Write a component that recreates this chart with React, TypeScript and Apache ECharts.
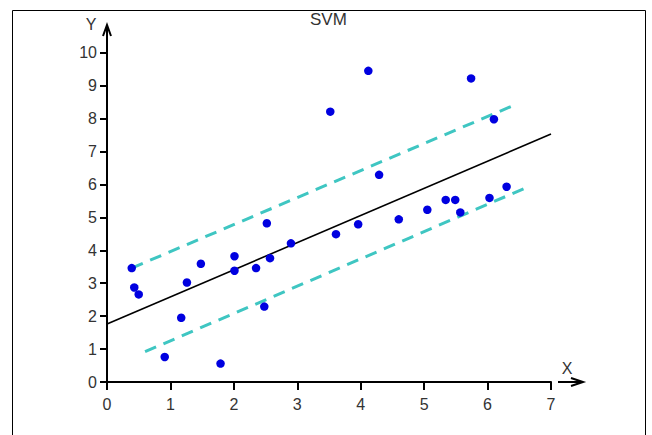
import React, { useEffect, useRef } from "react";
import * as echarts from "echarts";

// Training samples (x, y)
const samples: [number, number][] = [
  [0.39, 3.46], [0.43, 2.87], [0.5, 2.66], [0.91, 0.76], [1.17, 1.95],
  [1.26, 3.02], [1.48, 3.59], [1.79, 0.56], [2.01, 3.82], [2.01, 3.38],
  [2.35, 3.46], [2.48, 2.29], [2.52, 4.82], [2.57, 3.76], [2.9, 4.21],
  [3.52, 8.21], [3.61, 4.49], [3.96, 4.79], [4.12, 9.45], [4.29, 6.29],
  [4.6, 4.94], [5.05, 5.23], [5.34, 5.53], [5.49, 5.53], [5.57, 5.15],
  [5.74, 9.22], [6.03, 5.59], [6.1, 7.98], [6.3, 5.93],
];

// Fitted regression line and the epsilon-tube borders
const hyperplane: [number, number][] = [[0, 1.76], [7, 7.53]];
const upperMargin: [number, number][] = [[0.39, 3.46], [6.46, 8.44]];
const lowerMargin: [number, number][] = [[0.6, 0.92], [6.62, 5.91]];

const xTicks = { min: 0, max: 7, interval: 1 };
const yTicks = { min: 0, max: 10, interval: 1 };

const W = 652;
const H = 435;
const GRID = { left: 107, top: 52.7, right: 101, bottom: 53 };
const FONT = "'Liberation Sans', Arial, sans-serif";
const TEXT = "#333";
const TUBE = "#3fc6c2";

export default function App() {
  const ref = useRef<HTMLDivElement>(null);

  useEffect(() => {
    if (!ref.current) return;
    const chart = echarts.init(ref.current, undefined, { renderer: "svg" });
    const axisX = GRID.left;
    const axisY = H - GRID.bottom;
    const xEnd = W - GRID.right;

    chart.setOption({
      animation: false,
      backgroundColor: "#fff",
      title: {
        text: "SVM",
        left: 310,
        top: 11,
        padding: 0,
        textStyle: { fontFamily: FONT, fontSize: 17, fontWeight: "normal", color: TEXT },
      },
      grid: { ...GRID, outerBoundsMode: "none", containLabel: false },
      xAxis: {
        type: "value",
        ...xTicks,
        axisLine: { onZero: false, lineStyle: { color: "#000", width: 2 } },
        axisTick: { length: 8, lineStyle: { color: "#000", width: 2 } },
        axisLabel: { margin: 14, fontFamily: FONT, fontSize: 16, color: TEXT },
        splitLine: { show: false },
      },
      yAxis: {
        type: "value",
        ...yTicks,
        axisLine: { show: true, onZero: false, lineStyle: { color: "#000", width: 2 } },
        axisTick: { show: true, length: 7, lineStyle: { color: "#000", width: 2 } },
        axisLabel: { margin: 10, fontFamily: FONT, fontSize: 16, color: TEXT },
        splitLine: { show: false },
      },
      series: [
        {
          type: "line",
          data: upperMargin,
          symbol: "none",
          lineStyle: { color: TUBE, width: 3, type: [12, 8] },
        },
        {
          type: "line",
          data: lowerMargin,
          symbol: "none",
          lineStyle: { color: TUBE, width: 3, type: [12, 8] },
        },
        {
          type: "line",
          data: hyperplane,
          symbol: "none",
          lineStyle: { color: "#000", width: 1.6 },
        },
        {
          type: "scatter",
          data: samples,
          symbolSize: 8.5,
          itemStyle: { color: "#0000e0", opacity: 1 },
          z: 5,
        },
      ],
      graphic: [
        {
          type: "rect",
          shape: { x: 12.5, y: 10.5, width: 633, height: 440 },
          style: { fill: "none", stroke: "#000", lineWidth: 1 },
          silent: true,
        },
        // Y axis arrow
        {
          type: "line",
          shape: { x1: axisX, y1: GRID.top, x2: axisX, y2: 26 },
          style: { stroke: "#000", lineWidth: 2 },
        },
        {
          type: "polyline",
          shape: { points: [[axisX - 4, 36], [axisX, 25], [axisX + 4, 36]] },
          style: { stroke: "#000", lineWidth: 2, fill: "none" },
        },
        // X axis arrow
        {
          type: "line",
          shape: { x1: xEnd + 7, y1: axisY, x2: 582, y2: axisY },
          style: { stroke: "#000", lineWidth: 2 },
        },
        {
          type: "polyline",
          shape: { points: [[571, axisY - 4], [583, axisY], [571, axisY + 4]] },
          style: { stroke: "#000", lineWidth: 2, fill: "none" },
        },
        {
          type: "text",
          x: 91,
          y: 24,
          style: {
            text: "Y", fontFamily: FONT, fontSize: 16, fill: TEXT,
            align: "center", verticalAlign: "middle",
          },
        },
        {
          type: "text",
          x: 567,
          y: 368,
          style: {
            text: "X", fontFamily: FONT, fontSize: 16, fill: TEXT,
            align: "center", verticalAlign: "middle",
          },
        },
      ],
    });
    return () => chart.dispose();
  }, []);

  return (
    <div
      ref={ref}
      style={{ position: "fixed", left: 0, top: 0, width: W, height: H }}
    />
  );
}
